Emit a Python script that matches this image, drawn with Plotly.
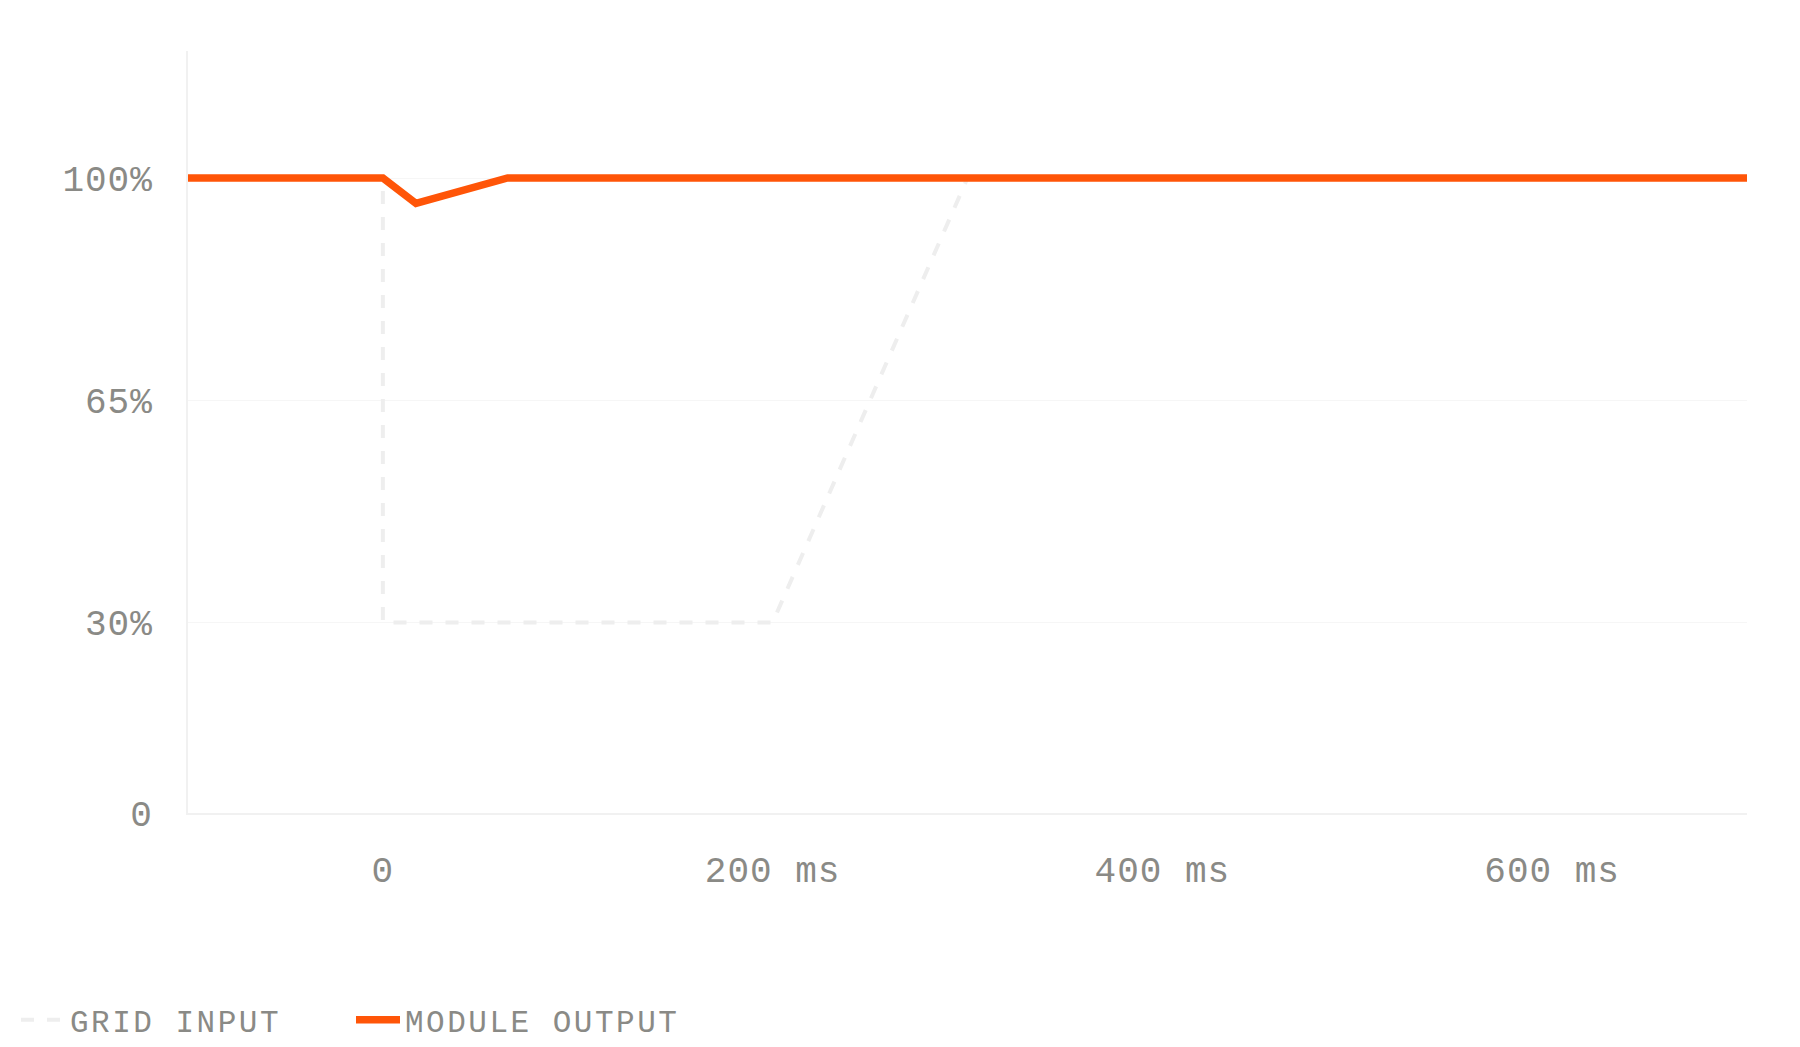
import plotly.graph_objects as go

# time in ms, level as fraction of nominal
grid_t = [-100, 0, 0, 200, 300, 700]
grid_level = [1.0, 1.0, 0.30, 0.30, 1.0, 1.0]

module_t = [-100, 0, 17, 64, 700]
module_level = [1.0, 1.0, 0.96, 1.0, 1.0]

x_ticks = [0, 200, 400, 600]
x_labels = ["0", "200 ms", "400 ms", "600 ms"]
y_ticks = [0, 0.30, 0.65, 1.0]
y_labels = ["0", "30%", "65%", "100%"]

MONO = "Liberation Mono, DejaVu Sans Mono, monospace"
GREY = "#8a8a86"

grid_trace = go.Scatter(
    x=grid_t,
    y=grid_level,
    mode="lines",
    name="GRID INPUT",
    line=dict(color="#eeeeee", width=4, dash="13px,13px"),
)

module_trace = go.Scatter(
    x=module_t,
    y=module_level,
    mode="lines",
    name="MODULE OUTPUT",
    line=dict(color="#ff5508", width=7.5),
)

layout = go.Layout(
    width=1800,
    height=1047,
    margin=dict(l=180, r=61, t=43, b=242),
    paper_bgcolor="white",
    plot_bgcolor="white",
    font=dict(family=MONO, color=GREY, size=36),
    xaxis=dict(
        range=[-100, 700],
        tickvals=x_ticks,
        ticktext=x_labels,
        showgrid=False,
        zeroline=False,
        showline=True,
        linecolor="#f1f1f1",
        linewidth=2,
        ticklabelstandoff=24,
        tickfont=dict(family=MONO, size=36, color=GREY),
    ),
    yaxis=dict(
        range=[0, 1.2],
        tickvals=y_ticks,
        ticktext=y_labels,
        showgrid=True,
        gridcolor="#f6f6f6",
        gridwidth=1,
        zeroline=False,
        showline=True,
        linecolor="#f1f1f1",
        linewidth=2,
        ticklabelstandoff=26,
        tickfont=dict(family=MONO, size=36, color=GREY),
    ),
    legend=dict(
        orientation="h",
        xref="container",
        yref="container",
        x=8 / 1800,
        xanchor="left",
        y=35 / 1047,
        yanchor="middle",
        itemwidth=44,
        entrywidth=276,
        font=dict(family=MONO, size=31, color=GREY),
        bgcolor="rgba(0,0,0,0)",
    ),
    showlegend=True,
)

fig = go.Figure(data=[grid_trace, module_trace], layout=layout)

# the reference spaces out its letters a little and rounds the output line ends
extra_js = """
document.querySelectorAll('.legendtext').forEach(function (t) { t.style.letterSpacing = '2.5px'; });
document.querySelectorAll('.xtick text, .ytick text').forEach(function (t) { t.style.letterSpacing = '1px'; });
var traces = document.querySelectorAll('.scatterlayer .trace');
if (traces.length) {
    traces[traces.length - 1].querySelectorAll('.js-line').forEach(function (p) { p.style.strokeLinecap = 'round'; });
}
"""
fig.write_html("out.html", post_script=extra_js)
